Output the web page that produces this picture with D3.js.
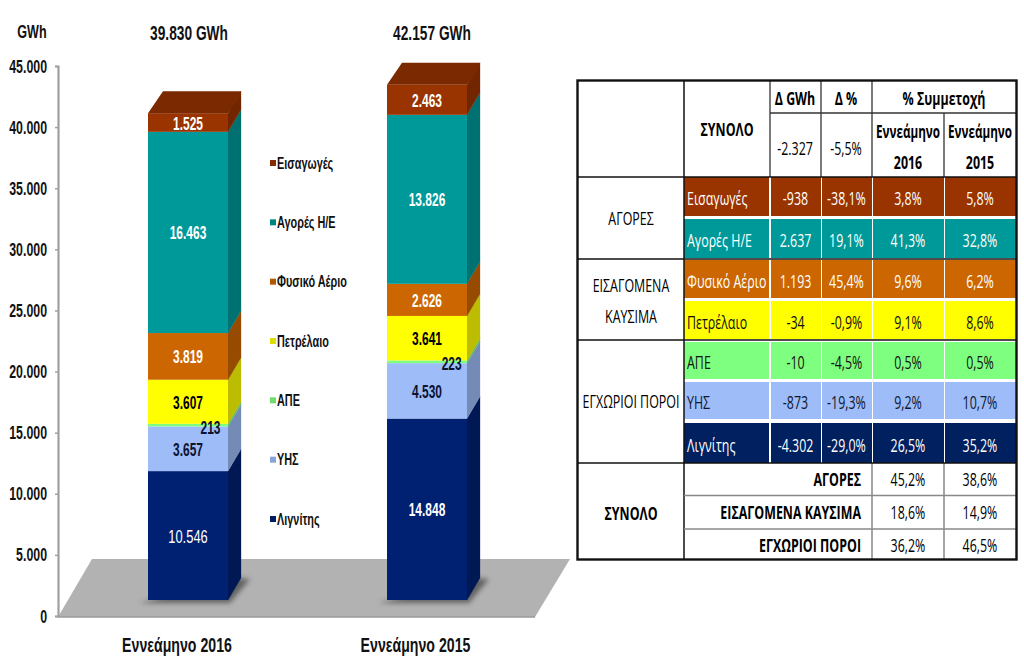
<!DOCTYPE html>
<html><head><meta charset="utf-8">
<script src="https://cdn.jsdelivr.net/npm/d3@7/dist/d3.min.js"></script>
<style>html,body{margin:0;padding:0;background:#fff}svg{display:block}</style></head>
<body><svg id="c" width="1024" height="662"></svg>
<script>
// ---- data ----
const periods = ["Εννεάμηνο 2016", "Εννεάμηνο 2015"];
const totals = ["39.830 GWh", "42.157 GWh"];
const seriesNames = ["Λιγνίτης", "ΥΗΣ", "ΑΠΕ", "Πετρέλαιο", "Φυσικό Αέριο", "Αγορές Η/Ε", "Εισαγωγές"];
const values2016 = [10546, 3657, 213, 3607, 3819, 16463, 1525];
const values2015 = [14848, 4530, 223, 3641, 2626, 13826, 2463];
const yTicks = [0, 5000, 10000, 15000, 20000, 25000, 30000, 35000, 40000, 45000];
const legendOrder = ["Εισαγωγές", "Αγορές Η/Ε", "Φυσικό Αέριο", "Πετρέλαιο", "ΑΠΕ", "ΥΗΣ", "Λιγνίτης"];
const tableRowNames = ["Εισαγωγές", "Αγορές Η/Ε", "Φυσικό Αέριο", "Πετρέλαιο", "ΑΠΕ", "ΥΗΣ", "Λιγνίτης"];
const deltaGWh = ["-938", "2.637", "1.193", "-34", "-10", "-873", "-4.302"];
const deltaPct = ["-38,1%", "19,1%", "45,4%", "-0,9%", "-4,5%", "-19,3%", "-29,0%"];
const share2016 = ["3,8%", "41,3%", "9,6%", "9,1%", "0,5%", "9,2%", "26,5%"];
const share2015 = ["5,8%", "32,8%", "6,2%", "8,6%", "0,5%", "10,7%", "35,2%"];
const summaryNames = ["ΑΓΟΡΕΣ", "ΕΙΣΑΓΟΜΕΝΑ ΚΑΥΣΙΜΑ", "ΕΓΧΩΡΙΟΙ ΠΟΡΟΙ"];
const summary2016 = ["45,2%", "18,6%", "36,2%"];
const summary2015 = ["38,6%", "14,9%", "46,5%"];

// ---- style ----
const front = {"Λιγνίτης":"#002072","ΥΗΣ":"#9dbcf8","ΑΠΕ":"#7fff7f","Πετρέλαιο":"#ffff00","Φυσικό Αέριο":"#cc6600","Αγορές Η/Ε":"#009999","Εισαγωγές":"#993300"};
const labelFill = {"Λιγνίτης":"#fff","ΥΗΣ":"#0c1230","ΑΠΕ":"#0c1230","Πετρέλαιο":"#000","Φυσικό Αέριο":"#fff","Αγορές Η/Ε":"#fff","Εισαγωγές":"#fff"};
const svg = d3.select("#c");
const sans = "'Liberation Sans',Arial,sans-serif";
const tfont = "'Open Sans','Noto Sans',sans-serif";
function txt(g, s, x, y, o = {}) {
  const sx = o.sx || 1;
  return g.append("text").text(s)
    .attr("transform", `translate(${x},${y}) scale(${sx},1)`)
    .attr("text-anchor", o.anchor || "middle")
    .attr("font-family", o.font || sans)
    .attr("font-size", o.size || 16)
    .attr("font-weight", o.weight || "normal")
    .attr("fill", o.fill || "#000");
}

// ---- scales ----
const y = d3.scaleLinear().domain([0, 45000]).range([616, 66]);
const baseLift = 16, dx = 13, dy = -22;
const barX = {[periods[0]]: 148, [periods[1]]: 387}, barW = 80;
const catCenter = {[periods[0]]: 177, [periods[1]]: 415.5};
const totalCenter = [189, 432];
const smallLabel = [{x: 210.5, y: 434}, {x: 451.7, y: 370}];

const defs = svg.append("defs");
defs.append("filter").attr("id", "soft").attr("x", "-30%").attr("y", "-30%").attr("width", "160%").attr("height", "160%")
  .append("feGaussianBlur").attr("stdDeviation", 2.5);

// ---- floor ----
svg.append("path").attr("d", `M58,${y(0)+1}L92,559L570,559L535,617Z`).attr("fill", "#b2b2b2");
svg.append("path").attr("d", `M58,${y(0)+1}L535,617`).attr("stroke-width", 1.5).attr("stroke", "#9a9a9a");

// ---- axis ----
const axisG = svg.append("g").attr("transform", "translate(58,0)");
const tickSx = 0.65;
axisG.call(d3.axisLeft(y).tickValues(yTicks).tickSize(3).tickFormat(d => d === 0 ? "0" : d3.format(",")(d).replace(",", ".")));
axisG.select(".domain").attr("stroke", "#a0a0a0").attr("stroke-width", 2.2);
axisG.selectAll(".tick line").attr("stroke", "#a0a0a0").attr("stroke-width", 1.5);
axisG.selectAll(".tick text").attr("font-family", sans).attr("font-weight", "bold").attr("font-size", 19).attr("fill", "#111")
  .attr("x", -11 / tickSx).attr("transform", `scale(${tickSx},1)`);
txt(svg, "GWh", 32, 38, {weight: "bold", size: 18, sx: .7, fill: "#111"});

// ---- bars ----
const rows = periods.map((p, i) => {
  const o = {period: p};
  seriesNames.forEach((s, j) => o[s] = (i === 0 ? values2016 : values2015)[j]);
  return o;
});
const stacked = d3.stack().keys(seriesNames)(rows);
periods.forEach((p, pi) => {
  const bx = barX[p];
  const g = svg.append("g");
  g.append("path").attr("filter", "url(#soft)").attr("fill", "#555").attr("opacity", .85)
    .attr("d", `M${bx-8},${y(0)-baseLift+3}L${bx+barW+2},${y(0)-baseLift+3}L${bx+barW+22},${y(0)-baseLift+dy+1}L${bx+barW+5},${y(0)-baseLift+dy}Z`);
  stacked.forEach(layer => {
    const s = layer.key, d = layer[pi];
    const y0 = y(d[0]) - baseLift, y1 = y(d[1]) - baseLift;
    const c = front[s];
    g.append("path").attr("fill", d3.color(c).darker(0.85)).attr("stroke", d3.color(c).darker(0.85)).attr("stroke-width", .3)
      .attr("d", `M${bx+barW},${y0}L${bx+barW+dx},${y0+dy}L${bx+barW+dx},${y1+dy}L${bx+barW},${y1}Z`);
    g.append("rect").attr("x", bx).attr("y", y1).attr("width", barW).attr("height", y0 - y1).attr("fill", c);
  });
  const topY = y(stacked[6][pi][1]) - baseLift;
  g.append("path").attr("fill", "#7a2900")
    .attr("d", `M${bx},${topY}L${bx+15},${topY+dy}L${bx+barW+dx},${topY+dy}L${bx+barW+dx},${topY+dy+4}L${bx+barW},${topY}Z`);
  stacked.forEach(layer => {
    const s = layer.key, d = layer[pi];
    const v = d[1] - d[0];
    const small = s === "ΑΠΕ";
    const lx = small ? smallLabel[pi].x : bx + barW / 2;
    const ly = small ? smallLabel[pi].y : (y(d[0]) + y(d[1])) / 2 - baseLift + 7;
    const thin = s === "Λιγνίτης" && pi === 0;
    txt(g, d3.format(",")(v).replace(",", "."), lx, ly, {weight: thin ? "normal" : "bold", size: 19, sx: thin ? .68 : .63, fill: labelFill[s]});
  });
  txt(svg, p, catCenter[p], 652, {weight: "bold", size: 20.5, sx: .69, fill: "#111"});
  txt(svg, totals[pi], totalCenter[pi], 40, {weight: "bold", size: 20.5, sx: .67, fill: "#111"});
});

// ---- legend ----
const legendY = d3.scalePoint().domain(legendOrder).range([163, 519]);
const legend = svg.append("g");
legendOrder.forEach(s => {
  const ly = legendY(s);
  legend.append("rect").attr("x", 270).attr("y", ly - 3).attr("width", 6).attr("height", 6).attr("fill", d3.color(front[s]).darker(.4));
  txt(legend, s, 277, ly + 5.5, {anchor: "start", weight: "bold", size: 16.5, sx: .66, fill: "#111"});
});

// ---- table ----
const colEdges = [577, 684, 770, 821, 872, 944, 1016];
const rowTops = [177, 219, 260, 301, 342, 382, 423];
const rowBots = [216, 258, 298, 339, 379, 419, 463];
const t = svg.append("g");
const tOpt = (o) => Object.assign({font: tfont, size: 18, sx: .69}, o);
t.append("rect").attr("x", 577).attr("y", 80).attr("width", 439).attr("height", 480).attr("fill", "#fff");
tableRowNames.forEach((s, i) => {
  const c = front[s];
  const tc = (s === "Πετρέλαιο" || s === "ΑΠΕ") ? "#111" : (s === "ΥΗΣ" ? "#101830" : "#fff");
  const bg = s === "Λιγνίτης" ? "#002060" : c;
  d3.range(1, 6).forEach(k => {
    t.append("rect").attr("x", colEdges[k] + (k > 1 ? 1 : 0)).attr("y", rowTops[i]).attr("width", colEdges[k+1] - colEdges[k] - 1).attr("height", rowBots[i] - rowTops[i]).attr("fill", bg);
  });
  const ty = (rowTops[i] + rowBots[i]) / 2 + 8.5;
  txt(t, s, colEdges[1] + 3, ty, tOpt({anchor: "start", fill: tc}));
  [deltaGWh, deltaPct, share2016, share2015].forEach((arr, k) => {
    txt(t, arr[i], (colEdges[k+2] + colEdges[k+3]) / 2, ty, tOpt({fill: tc}));
  });
});
const line = (x1, y1, x2, y2, c, w) => t.append("line").attr("x1", x1).attr("y1", y1).attr("x2", x2).attr("y2", y2).attr("stroke", c).attr("stroke-width", w);
line(684, 80, 684, 560, "#111", 1.5);
[770, 821, 872].forEach(v => line(v, 80, v, 177, "#333", 1.3));
line(944, 113, 944, 177, "#333", 1.3);
[872, 944].forEach(v => line(v, 463, v, 560, "#888", 1.5));
line(770, 113, 1016, 113, "#333", 1.3);
[177, 259, 340, 463].forEach(v => line(577, v, 1016, v, "#111", 1.5));
[495.5, 529].forEach(v => line(684, v, 1016, v, "#888", 1.3));
t.append("rect").attr("x", 577.5).attr("y", 80.5).attr("width", 439).attr("height", 479).attr("fill", "none").attr("stroke", "#111").attr("stroke-width", 2.4);
txt(t, "Δ GWh", 795, 105, tOpt({weight: "bold"}));
txt(t, "Δ %", 846, 105, tOpt({weight: "bold"}));
txt(t, "% Συμμετοχή", 944, 105, tOpt({weight: "bold"}));
txt(t, "ΣΥΝΟΛΟ", 727, 136, tOpt({weight: "bold"}));
txt(t, "-2.327", 795, 155, tOpt({}));
txt(t, "-5,5%", 846, 155, tOpt({}));
txt(t, "Εννεάμηνο", 908, 138, tOpt({weight: "bold", sx: .65}));
txt(t, "2016", 908, 169, tOpt({weight: "bold"}));
txt(t, "Εννεάμηνο", 980, 138, tOpt({weight: "bold", sx: .65}));
txt(t, "2015", 980, 169, tOpt({weight: "bold"}));
txt(t, "ΑΓΟΡΕΣ", 631, 225, tOpt({}));
txt(t, "ΕΙΣΑΓΟΜΕΝΑ", 631, 292, tOpt({}));
txt(t, "ΚΑΥΣΙΜΑ", 631, 323, tOpt({}));
txt(t, "ΕΓΧΩΡΙΟΙ ΠΟΡΟΙ", 631, 408, tOpt({}));
txt(t, "ΣΥΝΟΛΟ", 631, 520, tOpt({weight: "bold"}));
summaryNames.forEach((s, i) => {
  const yy = [486, 519, 552][i];
  txt(t, s, 861, yy, tOpt({anchor: "end", weight: "bold"}));
  txt(t, summary2016[i], 908, yy, tOpt({}));
  txt(t, summary2015[i], 980, yy, tOpt({}));
});
</script></body></html>
